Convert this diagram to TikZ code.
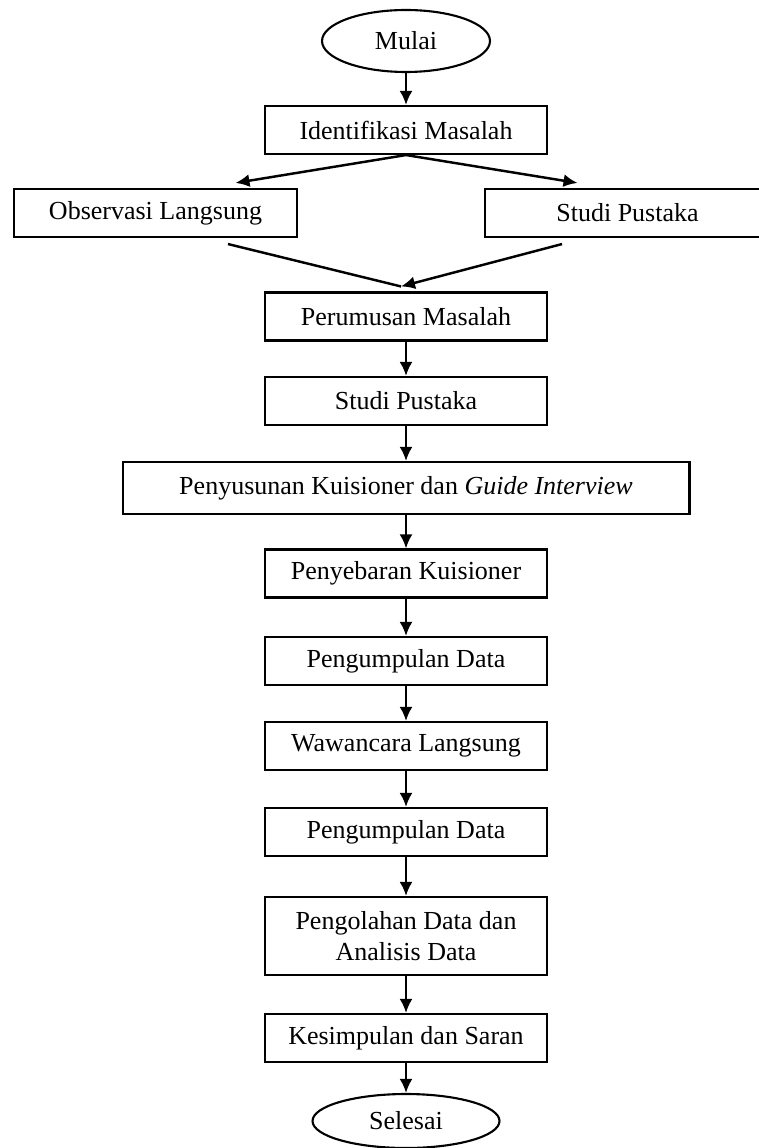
\documentclass[tikz,border=0pt]{standalone}
\usepackage{fontspec}
\setmainfont{Liberation Serif}
\usetikzlibrary{arrows.meta,shapes.geometric}

\begin{document}
\begin{tikzpicture}[
        x=0.02cm, y=-0.02cm,
        every node/.style={
            font=\fontsize{14.8}{18}\selectfont,
            line width=1.2pt,
            align=center
        },
        kotak/.style={
            draw,
            minimum width=5.64cm,
            minimum height=0.96cm
        },
        terminal/.style={
            draw,
            ellipse,
            minimum width=3.36cm,
            minimum height=1.24cm
        },
        alur/.style={-{Latex[length=2.8mm,width=2.6mm]}, line width=1.4pt}
    ]
        \useasboundingbox (0,0) rectangle (758,1148);

        \node[terminal] (mulai) at (406,41) {Mulai};
        \node[kotak] (identifikasi) at (406,130) {Identifikasi Masalah};
        \node[kotak, minimum width=5.66cm] (observasi) at (155.5,213) {Observasi Langsung};
        \node[kotak, minimum width=5.7cm] (pustakaA) at (627.5,213) {Studi Pustaka};
        \node[kotak] (perumusan) at (406,316.5) {Perumusan Masalah};
        \node[kotak] (pustakaB) at (406,401) {Studi Pustaka};
        \node[kotak, minimum width=11.34cm, minimum height=1.04cm] (kuisioner) at (406,488) {Penyusunan Kuisioner dan \textit{Guide Interview}};
        \node[kotak] (penyebaran) at (406,573.5) {Penyebaran Kuisioner};
        \node[kotak] (kumpulA) at (406,661) {Pengumpulan Data};
        \node[kotak] (wawancara) at (406,746) {Wawancara Langsung};
        \node[kotak] (kumpulB) at (406,832) {Pengumpulan Data};
        \node[kotak, minimum height=1.56cm] (olah) at (406,936) {Pengolahan Data dan\\Analisis Data};
        \node[kotak] (simpulan) at (406,1038) {Kesimpulan dan Saran};
        \node[terminal, minimum width=3.74cm, minimum height=1.08cm] (selesai) at (406,1121) {Selesai};

        \draw[alur] (mulai) -- (identifikasi);
        \draw[alur] (identifikasi.south) -- ([xshift=1.6cm,yshift=0.1cm]observasi.north);
        \draw[alur] (identifikasi.south) -- ([xshift=-1.0cm,yshift=0.1cm]pustakaA.north);
        \draw[line width=1.4pt] ([xshift=1.45cm,yshift=-0.12cm]observasi.south) -- ([xshift=-0.1cm,yshift=0.1cm]perumusan.north);
        \draw[alur] ([xshift=-1.31cm,yshift=-0.12cm]pustakaA.south) -- ([xshift=-0.1cm,yshift=0.1cm]perumusan.north);
        \draw[alur] (perumusan) -- (pustakaB);
        \draw[alur] (pustakaB) -- (kuisioner);
        \draw[alur] (kuisioner) -- (penyebaran);
        \draw[alur] (penyebaran) -- (kumpulA);
        \draw[alur] (kumpulA) -- (wawancara);
        \draw[alur] (wawancara) -- (kumpulB);
        \draw[alur] (kumpulB) -- (olah);
        \draw[alur] (olah) -- (simpulan);
        \draw[alur] (simpulan) -- (selesai);
    \end{tikzpicture}
\end{document}
